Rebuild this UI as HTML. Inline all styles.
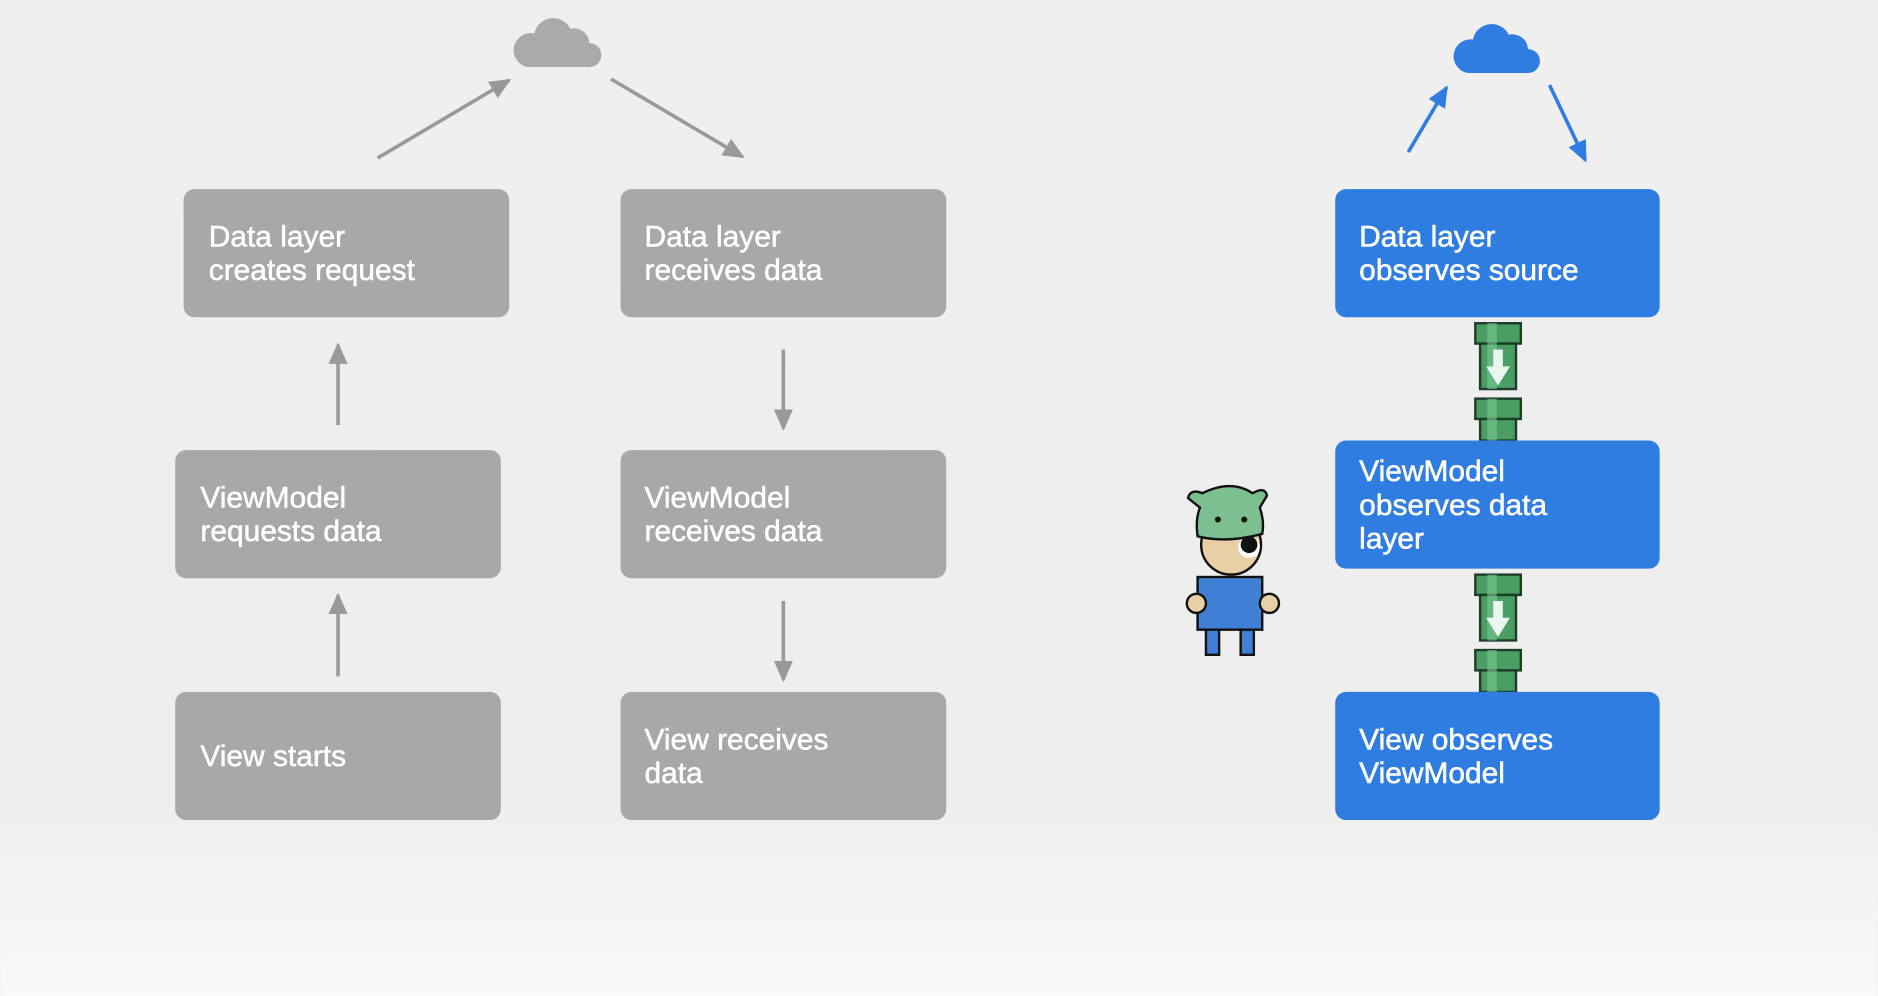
<!DOCTYPE html>
<html><head><meta charset="utf-8"><style>
html,body{margin:0;padding:0;width:1878px;height:996px;overflow:hidden;background:#efefef}
svg{display:block}
text{font-family:"Liberation Sans",sans-serif;font-size:25px;fill:#fff;stroke:#fff;stroke-width:0.45}
</style></head><body>
<svg width="1878" height="996" viewBox="0 0 1568 832" xmlns="http://www.w3.org/2000/svg">
<defs>
<linearGradient id="bg" x1="0" y1="0" x2="0" y2="1">
<stop offset="0" stop-color="#efefef"/><stop offset="0.8" stop-color="#eeeeee"/><stop offset="1" stop-color="#f9f9f9"/>
</linearGradient>
<marker id="agb" markerWidth="18" markerHeight="18" refX="16" refY="9" orient="auto" markerUnits="userSpaceOnUse" viewBox="0 0 18 18"><path d="M0,1 L18,9 L0,17z" fill="#999"/></marker>
<marker id="ab" markerWidth="18" markerHeight="18" refX="16" refY="9" orient="auto" markerUnits="userSpaceOnUse" viewBox="0 0 18 18"><path d="M0,1 L18,9 L0,17z" fill="#2f7de1"/></marker>
<g id="pipe">
<rect x="0" y="0" width="38" height="17" fill="#4a9d63" stroke="#1d3d28" stroke-width="2"/>
<rect x="4" y="17" width="30" height="38" fill="#4a9d63" stroke="#1d3d28" stroke-width="2"/>
<rect x="10" y="0" width="8" height="55" fill="#7cc994" opacity="0.6"/>
<path d="M15,22 v14 h-6 l10,16 l10,-16 h-6 v-14z" fill="#e8f8ee"/>
<rect x="0" y="63" width="38" height="17" fill="#4a9d63" stroke="#1d3d28" stroke-width="2"/>
<rect x="4" y="80" width="30" height="18" fill="#4a9d63" stroke="#1d3d28" stroke-width="2"/>
<rect x="10" y="63" width="8" height="35" fill="#7cc994" opacity="0.6"/>
</g>
</defs>
<rect width="1568" height="832" fill="url(#bg)"/>
<path d="M440,56 h52 a10,10 0 0 0 0,-20 a13,13 0 0 0 -16,-12 a16,16 0 0 0 -30,4 a12,12 0 0 0 -6,28z" fill="#aaa"/>
<line x1="315" y1="132" x2="425" y2="67" stroke="#999" stroke-width="3" marker-end="url(#agb)"/>
<line x1="510" y1="66" x2="620" y2="131" stroke="#999" stroke-width="3" marker-end="url(#agb)"/>
<g fill="#a8a8a8">
<rect x="153" y="158" width="272" height="107" rx="9"/>
<rect x="518" y="158" width="272" height="107" rx="9"/>
<rect x="146" y="376" width="272" height="107" rx="9"/>
<rect x="518" y="376" width="272" height="107" rx="9"/>
<rect x="146" y="578" width="272" height="107" rx="9"/>
<rect x="518" y="578" width="272" height="107" rx="9"/>
</g>
<g stroke="#999" stroke-width="3">
<line x1="282" y1="355" x2="282" y2="288" marker-end="url(#agb)"/>
<line x1="282" y1="565" x2="282" y2="497" marker-end="url(#agb)"/>
<line x1="654" y1="292" x2="654" y2="358" marker-end="url(#agb)"/>
<line x1="654" y1="502" x2="654" y2="568" marker-end="url(#agb)"/>
</g>
<text x="174" y="206">Data layer</text><text x="174" y="234">creates request</text>
<text x="538" y="206">Data layer</text><text x="538" y="234">receives data</text>
<text x="167" y="424">ViewModel</text><text x="167" y="452">requests data</text>
<text x="538" y="424">ViewModel</text><text x="538" y="452">receives data</text>
<text x="167" y="640">View starts</text>
<text x="538" y="626">View receives</text><text x="538" y="654">data</text>
<path d="M1226,61 h50 a10,10 0 0 0 0,-20 a13,13 0 0 0 -16,-12 a16,16 0 0 0 -30,4 a12,12 0 0 0 -4,28z" fill="#2f7de1"/>
<line x1="1176" y1="127" x2="1208" y2="73" stroke="#2f7de1" stroke-width="3" marker-end="url(#ab)"/>
<line x1="1294" y1="71" x2="1324" y2="134" stroke="#2f7de1" stroke-width="3" marker-end="url(#ab)"/>
<use href="#pipe" x="1232" y="270"/>
<use href="#pipe" x="1232" y="480"/>
<g fill="#2f7de1">
<rect x="1115" y="158" width="271" height="107" rx="9"/>
<rect x="1115" y="368" width="271" height="107" rx="9"/>
<rect x="1115" y="578" width="271" height="107" rx="9"/>
</g>
<text x="1135" y="206">Data layer</text><text x="1135" y="234">observes source</text>
<text x="1135" y="402">ViewModel</text><text x="1135" y="430">observes data</text><text x="1135" y="458">layer</text>
<text x="1135" y="626">View observes</text><text x="1135" y="654">ViewModel</text>
<g stroke="#111" stroke-width="2">
<rect x="1007" y="525" width="11" height="22" fill="#3f7fd6"/>
<rect x="1036" y="525" width="11" height="22" fill="#3f7fd6"/>
<circle cx="1028" cy="455" r="25" fill="#e8cfa6"/>
<circle cx="1043" cy="457" r="9" fill="#fff" stroke="none"/>
<circle cx="1043" cy="455" r="7" fill="#111" stroke="none"/>
<path d="M1000,448 q-2,-14 2,-24 l-10,-8 q2,-8 12,-4 q24,-12 42,0 q10,-6 12,2 l-6,10 q4,12 2,22 q-30,8 -54,2z" fill="#7cc08f"/>
<circle cx="1017" cy="434" r="2.5" fill="#111" stroke="none"/>
<circle cx="1039" cy="434" r="2.5" fill="#111" stroke="none"/>
<rect x="1000" y="482" width="54" height="44" fill="#3f7fd6"/>
<circle cx="999" cy="504" r="8" fill="#e8cfa6"/>
<circle cx="1060" cy="504" r="8" fill="#e8cfa6"/>
</g>
</svg>
</body></html>
